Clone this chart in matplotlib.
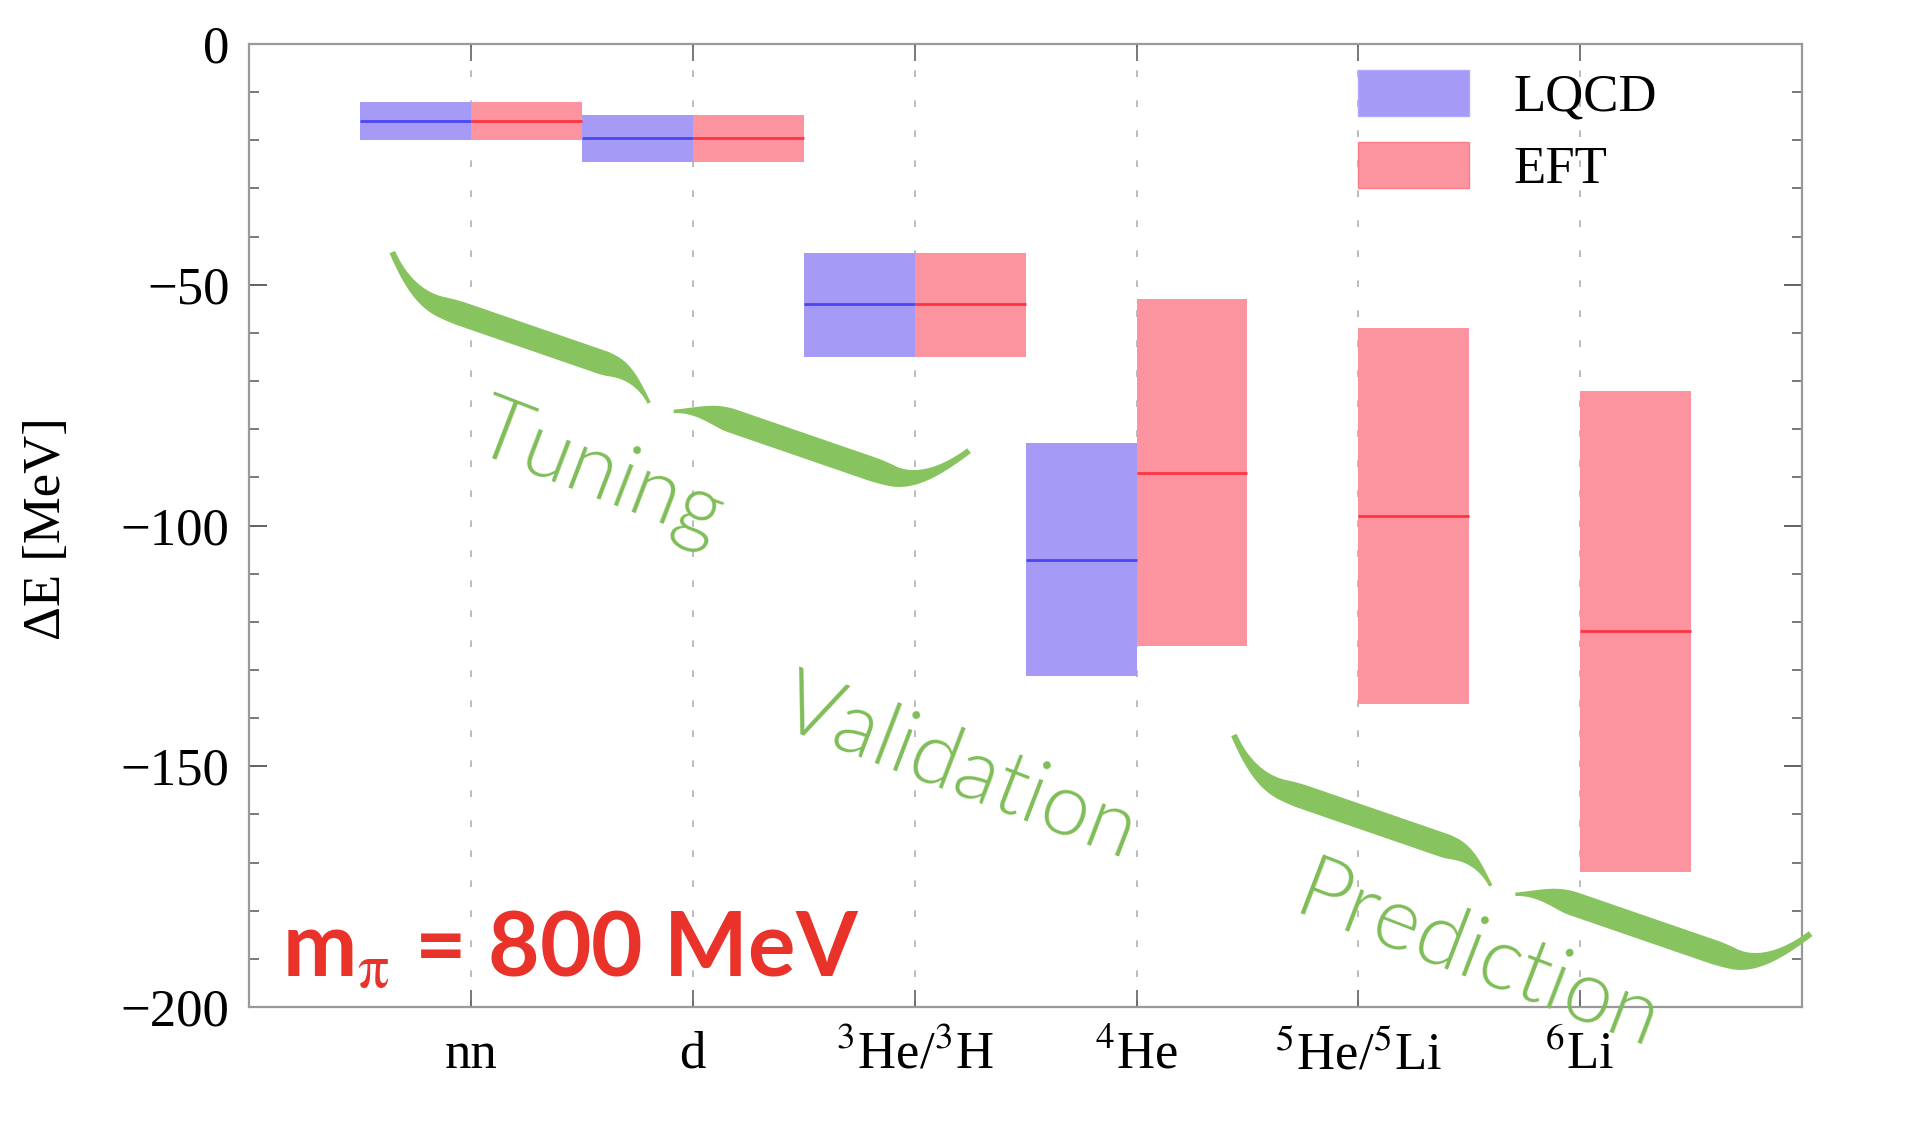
import numpy as np
import matplotlib
matplotlib.use('Agg')
import matplotlib.pyplot as plt
from matplotlib.patches import Patch, Polygon
from matplotlib.ticker import MultipleLocator

# values (MeV)
labels = ['nn', 'd', r'$^{3}$He/$^{3}$H', r'$^{4}$He', r'$^{5}$He/$^{5}$Li', r'$^{6}$Li']
pos = np.arange(1, 7)

lqcd_mid = [-16.0, -19.5, -54.0, -107.1]
lqcd_top = [-12.1, -14.7, -43.3, -82.8]
lqcd_bot = [-19.9, -24.5, -64.9, -131.3]

eft_mid = [-16.0, -19.5, -54.0, -89.0, -98.1, -121.9]
eft_top = [-12.1, -14.7, -43.3, -52.9, -59.0, -72.0]
eft_bot = [-19.9, -24.5, -64.9, -125.1, -137.0, -171.9]

c_lqcd = '#a59af6'
c_eft = '#fc949f'
c_green = '#87c35f'

plt.rcParams['font.family'] = ['Liberation Serif', 'DejaVu Serif']
plt.rcParams['mathtext.fontset'] = 'stix'

fig = plt.figure(figsize=(19.1, 11.44), dpi=100)
ax = fig.add_axes([0.1304, 0.1197, 0.8131, 0.8418])
ax.set_xlim(0, 7)
ax.set_ylim(-200, 0)

for x in pos:
    ax.axvline(x, color='#b0b0b0', lw=1.2, ls=(0, (4, 14)), zorder=0)

n = len(lqcd_mid)
ax.bar(pos[:n] - 0.25, np.array(lqcd_top) - np.array(lqcd_bot), bottom=lqcd_bot,
       width=0.5, color=c_lqcd, zorder=2)
ax.bar(pos + 0.25, np.array(eft_top) - np.array(eft_bot), bottom=eft_bot,
       width=0.5, color=c_eft, zorder=2)
ax.hlines(lqcd_mid, pos[:n] - 0.5, pos[:n], color='#4b46f2', lw=2, zorder=3)
ax.hlines(eft_mid, pos, pos + 0.5, color='#ff3344', lw=2, zorder=3)

# axes styling (mathematica-like frame)
for s in ax.spines.values():
    s.set_color('#999999')
    s.set_linewidth(1.6)
ax.set_yticks([0, -50, -100, -150, -200])
ax.yaxis.set_minor_locator(MultipleLocator(10))
ax.set_xticks(pos)
ax.set_xticklabels(labels)
ax.tick_params(axis='both', which='both', direction='in', top=True, right=True,
               colors='#555555', labelcolor='black', labelsize=38)
ax.tick_params(axis='y', which='major', length=13, width=1.3, pad=14)
ax.tick_params(axis='y', which='minor', length=7, width=1.1)
ax.tick_params(axis='x', which='major', length=12, width=1.1, pad=17)
ax.set_ylabel('ΔE [MeV]', fontsize=38)
ax.yaxis.set_label_coords(-0.1146, 0.497)

handles = [Patch(facecolor=c_lqcd, edgecolor='#b0a8ff', label='LQCD'),
           Patch(facecolor=c_eft, edgecolor='#fa7d8a', label='EFT')]
ax.legend(handles=handles, loc='upper left', bbox_to_anchor=(0.7141, 0.973),
          frameon=False, fontsize=38, handlelength=2.1, handleheight=0.95,
          handletextpad=0.85, labelspacing=0.38, borderpad=0, borderaxespad=0)


def brace(ax, x0, y0, angle):
    # curly under-brace drawn in pixel space, anchored at its left hook tip
    L, re, he, rt, g, ht, off, wmax = 610, 66, 36, 48, 13, 23, 13, 24
    th = np.radians(angle)
    t = np.array([np.cos(th), -np.sin(th)])
    nv = np.array([-np.sin(th), -np.cos(th)])
    o = ax.transData.transform((x0, y0)) + he * nv

    def sstep(z):
        z = np.clip(z, 0, 1)
        return 3 * z**2 - 2 * z**3

    half = L / 2 - g
    # left half
    u1 = np.linspace(0, half, 300)
    v1 = np.where(u1 < re, -he * (1 - u1 / re)**2, 0.0)
    v1 = np.where(u1 > half - rt, ht * ((u1 - (half - rt)) / rt)**2, v1)
    s1 = u1 / half
    # right half
    u2 = np.linspace(L / 2 + g, L, 300)
    v2 = np.full_like(u2, off)
    m = u2 < L / 2 + g + rt
    v2[m] = off + (ht - off) * ((L / 2 + g + rt - u2[m]) / rt)**2
    m = u2 > L - re
    v2[m] = off - (he + off) * ((u2[m] - (L - re)) / re)**2
    s2 = (L - u2) / half

    for u, v, s in ((u1, v1, s1), (u2, v2, s2)):
        p = o + np.outer(u, t) + np.outer(v, nv)
        d = np.gradient(p, axis=0)
        d /= np.hypot(d[:, 0], d[:, 1])[:, None]
        nn = np.column_stack([-d[:, 1], d[:, 0]])
        w = wmax * (0.25 + 0.75 * sstep(s / 0.3)) * (1 - 0.85 * sstep((s - 0.8) / 0.2))
        pts = np.vstack([p + nn * w[:, None] / 2, (p - nn * w[:, None] / 2)[::-1]])
        pts = ax.transData.inverted().transform(pts)
        ax.add_patch(Polygon(pts, closed=True, facecolor=c_green, edgecolor='none',
                             zorder=4, clip_on=False))


brace(ax, 0.6455, -43.2, 19)
brace(ax, 4.439, -143.5, 19)

word_style = dict(family=['Lato', 'DejaVu Sans'], weight=300, color='#7fbd58',
                  fontsize=63, rotation=-21, rotation_mode='anchor',
                  ha='center', va='center', zorder=5)
ax.text(1.58, -89.5, 'Tuning', **word_style)
ax.text(3.20, -150.6, 'Validation', **word_style)
ax.text(5.54, -189.8, 'Prediction', **word_style)

ax.text(0.0212, 0.031, r'm$_{\mathrm{\pi}}$ = 800 MeV', transform=ax.transAxes,
        family=['Lato', 'DejaVu Sans'], weight='bold', color='#e8322a',
        fontsize=64, ha='left', va='baseline', zorder=5)

fig.savefig('out.png', dpi=100)
